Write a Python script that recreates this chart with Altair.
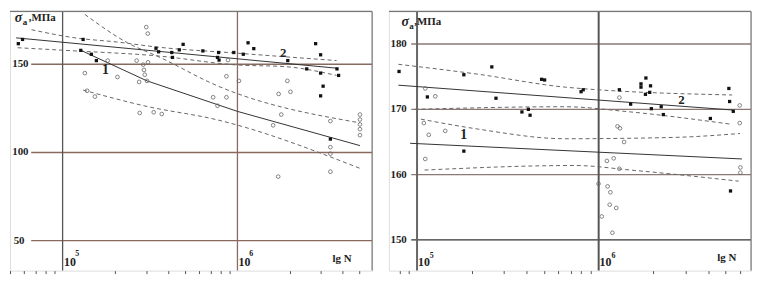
import altair as alt
import pandas as pd

# ---------------- LEFT PANEL ----------------
L_f_N = [55800, 59000, 131000, 127000, 146000, 156000, 342000, 354000, 421000, 425000,
         465000, 489000, 634000, 780000, 769000, 785000, 953000, 1.08e6, 1.15e6, 1.24e6,
         1.94e6, 2.49e6, 2.80e6, 2.99e6, 2.99e6, 3.09e6, 2.99e6, 3.71e6, 3.79e6, 3.40e6]
L_f_S = [161.7, 164.1, 164.1, 157.9, 155.7, 152.1, 159.1, 157.1, 156.7, 153.9,
         158.2, 161.3, 157.6, 156.7, 153.9, 152.4, 156.7, 155.7, 162.2, 158.9,
         152.1, 147.4, 161.7, 155.4, 145.0, 137.6, 132.1, 147.4, 143.7, 107.6]
L_o_N = [134000, 181000, 206000, 138000, 153000, 276000, 332000, 369000, 301000, 307000,
         265000, 289000, 308000, 292000, 295000, 274000, 304000, 865000, 1.02e6, 726000,
         865000, 769000, 1.93e6, 1.72e6, 2.01e6, 1.78e6, 1.60e6, 3.40e6, 3.40e6, 3.40e6,
         3.40e6, 5.02e6, 5.02e6, 5.02e6, 5.02e6, 5.02e6, 1.71e6, 883000]
L_o_S = [145.0, 152.1, 142.8, 135.0, 131.7, 122.4, 122.8, 121.8, 171.1, 167.4,
         152.1, 149.8, 151.1, 146.8, 144.1, 140.0, 140.6, 143.2, 140.6, 131.3,
         131.3, 126.5, 140.6, 133.2, 134.4, 121.5, 115.4, 117.8, 103.0, 99.3,
         89.1, 121.5, 118.7, 115.9, 113.2, 109.8, 86.3, 152.4]

L_lines = {
    "2s": ([54200, 3.69e6], [165.0, 147.8]),
    "2u": ([66400, 117800, 206000, 346000, 1.0e6, 3.69e6], [169.6, 165.0, 162.6, 159.8, 156.3, 152.1]),
    "2l": ([55300, 117800, 346000, 1.0e6, 1.86e6, 3.69e6], [159.4, 157.6, 154.8, 149.6, 148.7, 143.7]),
    "1s": ([128000, 304000, 1.0e6, 5.02e6], [157.8, 140.6, 123.3, 103.9]),
    "1u": ([134000, 235000, 361000, 752000, 5.02e6], [178.3, 162.2, 153.9, 138.2, 116.8]),
    "1l": ([131000, 304000, 752000, 5.02e6], [135.4, 126.1, 118.7, 91.0]),
}
L_hgrid = [150, 100, 50]
L_vgrid = [1e5, 1e6]
L_minor = [5e4, 6e4, 7e4, 8e4, 9e4, 2e5, 3e5, 4e5, 5e5, 6e5, 7e5, 8e5, 9e5,
           2e6, 3e6, 4e6, 5e6]

# ---------------- RIGHT PANEL ----------------
R_f_N = [79600, 181000, 258000, 485000, 504000, 114000, 272000, 378000, 410000, 419000,
         181000, 822000, 800000, 1.30e6, 1.82e6, 1.71e6, 1.71e6, 1.93e6, 1.91e6, 1.81e6,
         1.50e6, 1.95e6, 2.21e6, 2.27e6, 4.12e6, 5.21e6, 5.26e6, 5.51e6, 5.32e6]
R_f_S = [175.8, 175.3, 176.5, 174.6, 174.5, 171.9, 171.7, 169.6, 170.0, 169.1,
         163.6, 173.0, 172.7, 173.0, 174.8, 173.4, 173.9, 173.6, 172.6, 172.3,
         170.8, 170.1, 170.4, 169.2, 168.6, 173.2, 171.2, 169.7, 157.5]
R_o_N = [111000, 126000, 109000, 116000, 143000, 111000, 1.30e6, 1.27e6, 1.31e6, 1.38e6,
         1.21e6, 1.11e6, 1.30e6, 998000, 1.12e6, 1.16e6, 1.15e6, 1.25e6, 1.04e6, 1.19e6,
         5.98e6, 5.98e6, 6.03e6, 6.03e6]
R_o_S = [173.2, 172.0, 167.9, 166.1, 166.7, 162.4, 171.8, 167.4, 167.1, 165.0,
         162.5, 162.1, 160.9, 158.6, 158.2, 157.3, 155.4, 154.9, 153.6, 151.1,
         170.6, 167.9, 161.1, 160.3]

R_lines = {
    "2s": ([78900, 5.43e6], [173.7, 169.9]),
    "2u": ([78900, 214000, 655000, 5.43e6], [176.9, 175.4, 173.4, 172.2]),
    "2l": ([97100, 655000, 1.38e6, 5.43e6], [170.0, 170.4, 169.7, 167.7]),
    "1s": ([91600, 6.15e6], [164.8, 162.4]),
    "1u": ([105000, 214000, 655000, 2.58e6, 6.0e6], [168.5, 167.0, 165.5, 165.7, 166.3]),
    "1l": ([110000, 741000, 1.50e6, 5.9e6], [160.7, 161.4, 160.7, 159.0]),
}
R_hgrid = [180, 170, 160, 150]
R_vgrid = [1e5, 1e6]
R_minor = [8e4, 9e4, 2e5, 3e5, 4e5, 5e5, 6e5, 7e5, 8e5, 9e5,
           2e6, 3e6, 4e6, 5e6, 6e6]

FONT = "Liberation Serif"


def panel(xdom, ydom, W, H, f_N, f_S, o_N, o_S, lines, hgrid, hgrid_start, hcolors,
          vgrid, vcolors, vwidth, minor, texts):
    xs = alt.Scale(type="log", domain=xdom, nice=False)
    ys = alt.Scale(domain=ydom, nice=False, zero=False)
    xax = alt.Axis(values=minor, labels=False, domain=False, grid=False, ticks=True,
                   tickSize=3, tickColor="#555", tickWidth=1, title=None)

    def X(field):
        return alt.X(field, type="quantitative", scale=xs, axis=xax)

    def Y(field):
        return alt.Y(field, type="quantitative", scale=ys, axis=None)

    hg = pd.DataFrame({"y": hgrid, "x": [hgrid_start] * len(hgrid),
                       "x2": [xdom[1]] * len(hgrid), "c": hcolors})
    hg_layer = alt.Chart(hg).mark_rule(strokeWidth=1.4).encode(
        x=X("x"), x2="x2", y=Y("y"), color=alt.Color("c:N", scale=None))
    vg = pd.DataFrame({"x": vgrid, "c": vcolors})
    vg_layer = alt.Chart(vg).mark_rule(strokeWidth=vwidth).encode(
        x=X("x"), color=alt.Color("c:N", scale=None))
    # frame: top and right edges
    top = alt.Chart(pd.DataFrame({"y": [ydom[1]]})).mark_rule(
        color="#777", strokeWidth=1.2).encode(y=Y("y"))
    right = alt.Chart(pd.DataFrame({"x": [xdom[1]]})).mark_rule(
        color="#777", strokeWidth=1.2).encode(x=X("x"))

    rows = []
    for k, (ns, ss) in lines.items():
        for n, s in zip(ns, ss):
            rows.append({"id": k, "N": n, "S": s, "solid": k.endswith("s")})
    ld = pd.DataFrame(rows)
    solid = alt.Chart(ld[ld.solid]).mark_line(color="#333", strokeWidth=1).encode(
        x=X("N"), y=Y("S"), detail="id:N")
    dashed = alt.Chart(ld[~ld.solid]).mark_line(
        color="#666", strokeWidth=1, strokeDash=[4, 3], interpolate="monotone").encode(
        x=X("N"), y=Y("S"), detail="id:N")

    fd = pd.DataFrame({"N": f_N, "S": f_S})
    od = pd.DataFrame({"N": o_N, "S": o_S})
    filled = alt.Chart(fd).mark_square(size=11, color="#111", opacity=1).encode(
        x=X("N"), y=Y("S"))
    opened = alt.Chart(od).mark_point(shape="circle", size=14, filled=False,
                                      stroke="#666", strokeWidth=0.8, opacity=1).encode(
        x=X("N"), y=Y("S"))

    layers = [hg_layer, vg_layer, top, right, dashed, solid, opened, filled]
    for (t, n, s, size, style, align, base, dx) in texts:
        td = pd.DataFrame({"t": [t], "N": [n], "S": [s]})
        layers.append(alt.Chart(td).mark_text(
            font=FONT, fontSize=size, fontWeight="bold", fontStyle=style,
            align=align, baseline=base, color="#222", dx=dx).encode(
            x=X("N"), y=Y("S"), text="t:N"))
    return alt.layer(*layers).properties(width=W, height=H)


W, H = 366, 262

# text: (text, N, sigma, size, style, align, baseline, dx)
L_texts = [
    ("σ", 53300, 176.3, 14, "italic", "left", "middle", 0),
    ("a", 53300, 174.2, 9, "normal", "left", "middle", 8),
    (",MПа", 53300, 176.5, 11, "normal", "left", "middle", 14),
    ("150", 51500, 150, 11, "normal", "left", "middle", 0),
    ("100", 51500, 100, 11, "normal", "left", "middle", 0),
    ("50", 52500, 50, 11, "normal", "left", "middle", 0),
    ("10", 102000, 34, 12, "normal", "left", "bottom", 0),
    ("5", 118000, 40, 8, "normal", "left", "bottom", 0),
    ("10", 1.015e6, 34, 12, "normal", "left", "bottom", 0),
    ("6", 1.17e6, 40, 8, "normal", "left", "bottom", 0),
    ("lg N", 3.5e6, 37, 11, "normal", "left", "bottom", 0),
    ("1", 1.68e5, 146.5, 14, "normal", "left", "middle", 0),
    ("2", 1.75e6, 156.5, 13, "normal", "left", "middle", 0),
]
R_texts = [
    ("σ", 82000, 183.3, 14, "italic", "left", "middle", 0),
    ("a", 82000, 182.7, 9, "normal", "left", "middle", 8),
    (",MПа", 82000, 183.4, 11, "normal", "left", "middle", 13),
    ("180", 71400, 180, 11, "normal", "left", "middle", 0),
    ("170", 71400, 170, 11, "normal", "left", "middle", 0),
    ("160", 71400, 160, 11, "normal", "left", "middle", 0),
    ("150", 71400, 150, 11, "normal", "left", "middle", 0),
    ("10", 101200, 145.5, 12, "normal", "left", "bottom", 0),
    ("5", 117500, 147.0, 8, "normal", "left", "bottom", 0),
    ("10", 1.012e6, 145.5, 12, "normal", "left", "bottom", 0),
    ("6", 1.175e6, 147.0, 8, "normal", "left", "bottom", 0),
    ("lg N", 4.5e6, 146.4, 11, "normal", "left", "bottom", 0),
    ("1", 1.73e5, 166.1, 14, "normal", "left", "middle", 0),
    ("2", 2.74e6, 171.5, 13, "normal", "left", "middle", 0),
]

left = panel([5e4, 5.89e6], [33, 180], W, H, L_f_N, L_f_S, L_o_N, L_o_S, L_lines,
             L_hgrid, 66100, ["#8a6a5e", "#8a6a5e", "#8a6a5e"],
             L_vgrid, ["#555555", "#8a6a5e"], 1.3, L_minor, L_texts)
right = panel([7e4, 6.9e6], [145.3, 185], W, H, R_f_N, R_f_S, R_o_N, R_o_S, R_lines,
              R_hgrid, 92900, ["#8a7a74", "#8a7a74", "#8a7a74", "#333333"],
              R_vgrid, ["#666666", "#555555"], 2, R_minor, R_texts)

chart = alt.hconcat(left, right, spacing=13).properties(padding=0).configure_view(
    stroke=None).configure(background="white")
chart.save("out.html", embed_options={"renderer": "svg", "actions": False})
